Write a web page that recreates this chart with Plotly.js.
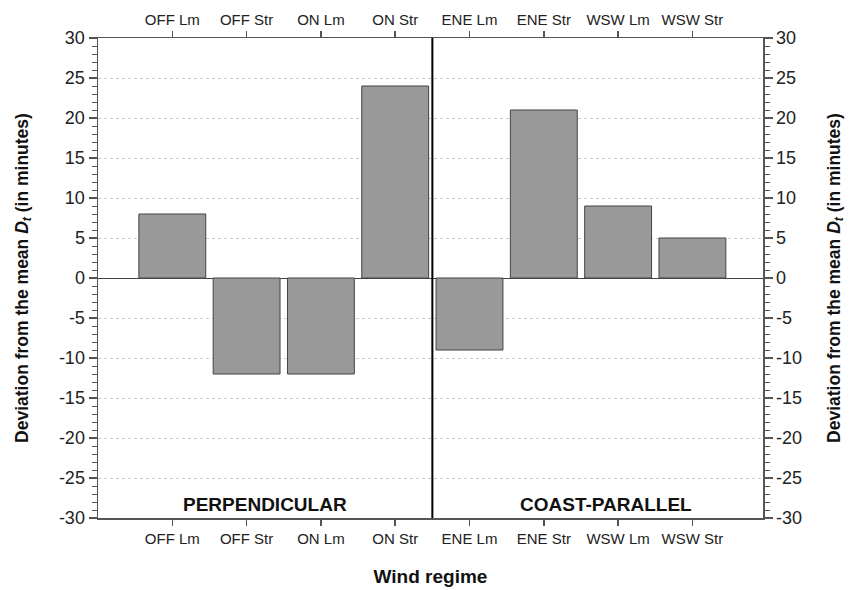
<!DOCTYPE html>
<html>
<head>
<meta charset="utf-8">
<script src="https://cdn.plot.ly/plotly-3.0.1.min.js"></script>
<style>html,body{margin:0;padding:0;background:#fff;}#chart{width:857px;height:590px;}</style>
</head>
<body>
<div id="chart"></div>
<script>
const categories = ["OFF Lm", "OFF Str", "ON Lm", "ON Str", "ENE Lm", "ENE Str", "WSW Lm", "WSW Str"];
const deviations = [8, -12, -12, 24, -9, 21, 9, 5];
const groupLabels = ["PERPENDICULAR", "COAST-PARALLEL"];
const yTickVals = [-30, -25, -20, -15, -10, -5, 0, 5, 10, 15, 20, 25, 30];
const yTickLabels = ["-30", "-25", "-20", "-15", "-10", "-5", "0", "5", "10", "15", "20", "25", "30"];

const idx = categories.map((c, i) => i);
const FONT = "Liberation Sans, Arial, sans-serif";
const AX = "#555";

const traces = [
  {
    type: "bar",
    x: idx,
    y: deviations,
    width: 0.9,
    marker: {color: "#999999", line: {color: "#444", width: 1}},
    hoverinfo: "x+y",
    xaxis: "x",
    yaxis: "y"
  },
  {
    type: "scatter",
    mode: "markers",
    x: idx,
    y: deviations,
    marker: {opacity: 0},
    hoverinfo: "skip",
    xaxis: "x2",
    yaxis: "y2",
    showlegend: false
  }
];

const yTitle = "Deviation from the mean <i>D<sub>t</sub></i> (in minutes)";
const yCommon = {
  range: [-30, 30],
  tickmode: "array",
  tickvals: yTickVals,
  ticktext: yTickLabels,
  ticks: "outside",
  ticklen: 8,
  tickwidth: 1.5,
  tickcolor: AX,
  minor: {dtick: 1, ticklen: 5, tickcolor: AX, tickwidth: 1, ticks: "outside", showgrid: false},
  showline: true,
  linecolor: AX,
  linewidth: 1.5,
  tickfont: {family: FONT, size: 18, color: "#222"},
  title: {text: yTitle, font: {family: FONT, size: 17.5, color: "#111", weight: "bold"}, standoff: 26},
  fixedrange: true
};

const xCommon = {
  type: "linear",
  range: [-1, 7.95],
  tickmode: "array",
  tickvals: idx,
  ticktext: categories,
  ticks: "outside",
  ticklen: 6,
  tickwidth: 1.5,
  tickcolor: AX,
  showline: true,
  linecolor: AX,
  linewidth: 1.5,
  showgrid: false,
  zeroline: false,
  tickfont: {family: FONT, size: 15, color: "#222"},
  fixedrange: true
};

const layout = {
  width: 857,
  height: 590,
  margin: {l: 98, r: 94, t: 38, b: 72},
  paper_bgcolor: "#fff",
  plot_bgcolor: "#fff",
  showlegend: false,
  bargap: 0,
  xaxis: Object.assign({}, xCommon, {
    title: {text: "Wind regime", font: {family: FONT, size: 19, color: "#111", weight: "bold"}, standoff: 24}
  }),
  xaxis2: Object.assign({}, xCommon, {overlaying: "x", side: "top", anchor: "y"}),
  yaxis: Object.assign({}, yCommon, {
    showgrid: true,
    gridcolor: "#cfcfcf",
    griddash: "dot",
    gridwidth: 1,
    zeroline: true,
    zerolinecolor: "#444",
    zerolinewidth: 1
  }),
  yaxis2: Object.assign({}, yCommon, {overlaying: "y", side: "right", anchor: "x", showgrid: false, zeroline: false}),
  shapes: [
    {type: "line", xref: "x", yref: "paper", x0: 3.5, x1: 3.5, y0: 0, y1: 1, line: {color: "#000", width: 2}}
  ],
  annotations: [
    {xref: "x", yref: "y", x: 1.25, y: -28.3, text: "<b>" + groupLabels[0] + "</b>", showarrow: false,
     font: {family: FONT, size: 19, color: "#111"}},
    {xref: "x", yref: "y", x: 5.84, y: -28.3, text: "<b>" + groupLabels[1] + "</b>", showarrow: false,
     font: {family: FONT, size: 19, color: "#111"}}
  ]
};

Plotly.newPlot("chart", traces, layout, {displayModeBar: false, staticPlot: true});
</script>
</body>
</html>
